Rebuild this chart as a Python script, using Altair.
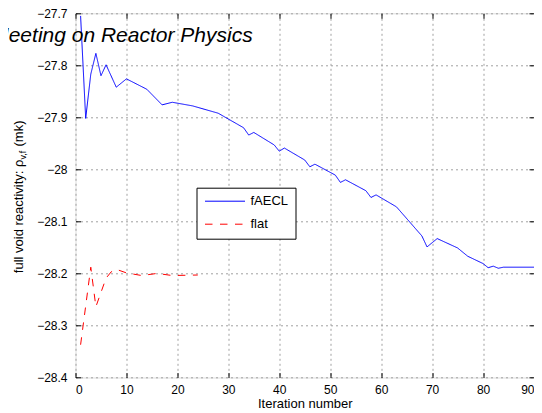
import altair as alt
import pandas as pd

TITLE = "Meeting on Reactor Physics"
X_TITLE = "Iteration number"
Y_TITLE_MAIN = "full void reactivity: ρ"
Y_TITLE_SUB = "v,f"
Y_TITLE_UNIT = "(mk)"
SERIES = ["fAECL", "flat"]
X_TICKS = [0, 10, 20, 30, 40, 50, 60, 70, 80, 90]
Y_TICKS = [-28.4, -28.3, -28.2, -28.1, -28.0, -27.9, -27.8, -27.7]

faecl_iter = [1, 2, 3, 4, 5, 6, 8, 10, 14, 17, 19, 23, 28, 33, 34, 35, 39, 40, 41,
              45, 46, 47, 51, 52, 53, 57, 58, 59, 63, 68, 69, 71, 75, 77, 80, 81,
              82, 83, 84, 90]
faecl_val = [-27.705, -27.902, -27.817, -27.777, -27.820, -27.799, -27.842, -27.826,
             -27.846, -27.876, -27.871, -27.878, -27.892, -27.920, -27.934, -27.929,
             -27.953, -27.965, -27.959, -27.982, -27.995, -27.990, -28.011, -28.025,
             -28.020, -28.041, -28.054, -28.049, -28.072, -28.128, -28.149, -28.133,
             -28.151, -28.167, -28.181, -28.189, -28.186, -28.190, -28.188, -28.188]

flat_iter = [1, 3, 4, 6, 7, 8, 10, 13, 16, 19, 24]
flat_val = [-28.337, -28.188, -28.264, -28.209, -28.197, -28.192, -28.199, -28.204,
            -28.200, -28.204, -28.203]

df_a = pd.DataFrame({"it": faecl_iter, "v": faecl_val, "series": SERIES[0]})
df_f = pd.DataFrame({"it": flat_iter, "v": flat_val, "series": SERIES[1]})

FONT = "Liberation Sans"
x_scale = alt.Scale(domain=[0, 90], nice=False)
y_scale = alt.Scale(domain=[-28.4, -27.7], nice=False, zero=False)

legend = alt.Legend(
    title=None, orient="none", legendX=121, legendY=174.4,
    fillColor="white", strokeColor="black", padding=7, cornerRadius=0,
    symbolType="M-1,0H7", symbolSize=100, symbolStrokeWidth=1,
    labelFontSize=13, labelFont=FONT, labelColor="black", labelOffset=34,
    rowPadding=9, labelLimit=200,
)
color = alt.Color("series:N", scale=alt.Scale(domain=SERIES, range=["#0000ff", "#ff0000"]), legend=legend)
dash = alt.StrokeDash("series:N", scale=alt.Scale(domain=SERIES, range=[[1, 0], [7.5, 7.5]]), legend=legend)

blue = alt.Chart(df_a).mark_line(strokeWidth=1, clip=True).encode(
    x=alt.X("it:Q", scale=x_scale, axis=alt.Axis(
        orient="bottom", values=X_TICKS, offset=-5, tickSize=5, tickColor="black",
        domain=False, grid=True, gridDash=[2, 3], gridColor="#a0a0a0",
        labelFontSize=12, labelFont=FONT, labelColor="black", labelPadding=6.5,
        title=X_TITLE, titleFontSize=13, titleFont=FONT, titleFontWeight="normal",
        titleColor="black", titlePadding=2)),
    y=alt.Y("v:Q", scale=y_scale, axis=alt.Axis(
        orient="left", values=Y_TICKS, format=".1~f", offset=-5, tickSize=5,
        tickColor="black", domain=False, grid=True, gridDash=[2, 3], gridColor="#a0a0a0",
        labelFontSize=12, labelFont=FONT, labelColor="black", labelPadding=8.5,
        title=None)),
    color=color,
    strokeDash=dash,
)

red = alt.Chart(df_f).mark_line(strokeWidth=1, clip=True).encode(
    x=alt.X("it:Q", scale=x_scale, axis=alt.Axis(
        orient="top", values=X_TICKS, offset=-5, tickSize=5, tickColor="black",
        domain=False, grid=False, labels=False, title=None)),
    y=alt.Y("v:Q", scale=y_scale, axis=alt.Axis(
        orient="right", values=Y_TICKS, offset=-5, tickSize=5, tickColor="black",
        domain=False, grid=False, labels=False, title=None)),
    color=color,
    strokeDash=dash,
)

def label(text, x, y, **kw):
    return alt.Chart(pd.DataFrame({"t": [text]})).mark_text(font=FONT, color="black", **kw).encode(
        text="t:N", x=alt.value(x), y=alt.value(y))

title = label(TITLE, -84.3, 29, fontSize=21, fontStyle="italic", align="left", baseline="alphabetic")
yt1 = label(Y_TITLE_MAIN, -53, 146.3, fontSize=13, angle=270, align="right", baseline="alphabetic")
yt2 = label(Y_TITLE_SUB, -50, 146.3, fontSize=9, angle=270, align="left", baseline="alphabetic")
yt3 = label(Y_TITLE_UNIT, -53, 133.2, fontSize=13, angle=270, align="left", baseline="alphabetic")

chart = alt.layer(blue, red, title, yt1, yt2, yt3).resolve_scale(
    x="shared", y="shared", color="shared", strokeDash="shared"
).resolve_axis(x="independent", y="independent").properties(
    width=458.5, height=364.2,
    autosize=alt.AutoSizeParams(type="none"),
    padding={"left": 67.5, "top": 5.3, "right": 0, "bottom": 35},
).configure_view(stroke="black", strokeWidth=1).configure(background="white")

chart.save("out.html", embed_options={"renderer": "svg", "actions": False})
